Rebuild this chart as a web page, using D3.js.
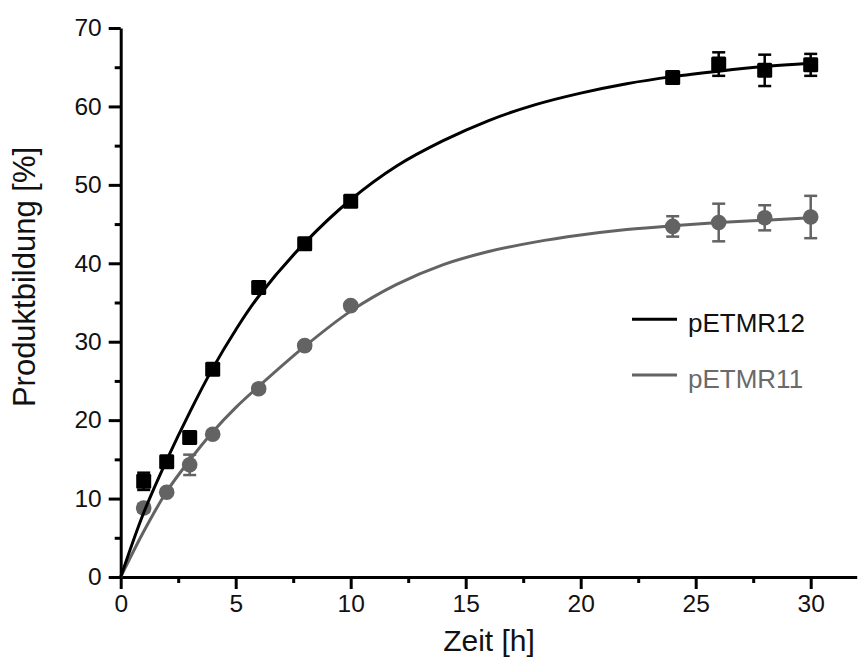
<!DOCTYPE html>
<html><head><meta charset="utf-8">
<script src="https://cdn.jsdelivr.net/npm/d3@7"></script>
<style>
body{margin:0;background:#fff;}
text{font-family:"Liberation Sans",Arial,sans-serif;}
</style></head>
<body><svg id="c" width="860" height="659"></svg>
<script>
// Measured data
const timeH = [1, 2, 3, 4, 6, 8, 10, 24, 26, 28, 30];
const pETMR12 = [12.2, 14.7, 17.8, 26.5, 36.9, 42.5, 47.9, 63.7, 65.4, 64.6, 65.3];
const pETMR12Err = [1.1, 0.5, 0.7, 0.4, 0.4, 0.4, 0.4, 0.6, 1.5, 2.0, 1.4];
const pETMR11 = [8.8, 10.8, 14.3, 18.2, 24.0, 29.5, 34.6, 44.7, 45.2, 45.8, 45.9];
const pETMR11Err = [0.5, 0.4, 1.3, 0.4, 0.4, 0.4, 0.4, 1.3, 2.4, 1.6, 2.7];
// Fit curves
const fitX = [0, 1, 2, 3, 4, 5, 6, 8, 10, 12, 14, 16, 18, 20, 22, 24, 26, 28, 30];
const fit12 = [0, 8.2, 14.9, 21.0, 26.6, 31.5, 35.8, 42.6, 48.1, 52.4, 55.6, 58.2, 60.2, 61.7, 62.9, 63.8, 64.5, 65.1, 65.5];
const fit11 = [0, 5.8, 10.9, 14.9, 18.5, 21.6, 24.3, 29.4, 33.9, 37.3, 39.8, 41.5, 42.7, 43.6, 44.3, 44.8, 45.2, 45.5, 45.8];
const xTicks = [0, 5, 10, 15, 20, 25, 30];
const yTicks = [0, 10, 20, 30, 40, 50, 60, 70];
const seriesNames = ["pETMR12", "pETMR11"];
const colors = ["#000000", "#636363"];

const svg = d3.select("#c");
const x = d3.scaleLinear().domain([0, 32]).range([120.7, 856.7]);
const y = d3.scaleLinear().domain([0, 70]).range([577, 28]);

// axes
const gx = svg.append("g").attr("transform", `translate(0,${y(0)})`);
gx.call(d3.axisBottom(x).tickValues(xTicks).tickSize(12).tickSizeOuter(0).tickPadding(6));
const gxm = svg.append("g").attr("transform", `translate(0,${y(0)})`);
gxm.call(d3.axisBottom(x).tickValues(d3.range(2.5, 32, 5)).tickSize(6).tickFormat("").tickSizeOuter(0));
gxm.select(".domain").remove();
const gy = svg.append("g").attr("transform", `translate(${x(0)},0)`);
gy.call(d3.axisLeft(y).tickValues(yTicks).tickSize(12).tickSizeOuter(0).tickPadding(7));
const gym = svg.append("g").attr("transform", `translate(${x(0)},0)`);
gym.call(d3.axisLeft(y).tickValues(d3.range(5, 70, 10)).tickSize(6).tickFormat("").tickSizeOuter(0));
gym.select(".domain").remove();
svg.selectAll(".domain").attr("stroke", "#000").attr("stroke-width", 3);
svg.selectAll(".tick line").attr("stroke", "#000").attr("stroke-width", 3);
svg.selectAll(".tick text").attr("font-size", 24.5).attr("fill", "#111")
  .style("font-family", '"Liberation Sans",Arial,sans-serif');

// axis titles
svg.append("text").attr("x", 489).attr("y", 651).attr("text-anchor", "middle")
  .attr("font-size", 30).attr("fill", "#111").text("Zeit [h]");
svg.append("text").attr("transform", "translate(35,277) rotate(-90)").attr("text-anchor", "middle")
  .attr("font-size", 31).attr("fill", "#111").text("Produktbildung [%]");

const line = d3.line().x(d => x(d[0])).y(d => y(d[1])).curve(d3.curveCatmullRom);

function drawSeries(vals, errs, fit, color, shape) {
  svg.append("path").datum(fitX.map((t, i) => [t, fit[i]]))
    .attr("d", line).attr("fill", "none").attr("stroke", color).attr("stroke-width", 3);
  const g = svg.append("g");
  timeH.forEach((t, i) => {
    const cx = x(t), cy = y(vals[i]);
    const y1 = y(vals[i] + errs[i]), y2 = y(vals[i] - errs[i]);
    g.append("line").attr("x1", cx).attr("x2", cx).attr("y1", y1).attr("y2", y2)
      .attr("stroke", color).attr("stroke-width", 2.5);
    [y1, y2].forEach(yy => g.append("line").attr("x1", cx - 6.5).attr("x2", cx + 6.5)
      .attr("y1", yy).attr("y2", yy).attr("stroke", color).attr("stroke-width", 2.5));
    if (shape === "square") {
      g.append("rect").attr("x", cx - 7.5).attr("y", cy - 7.5).attr("width", 15).attr("height", 15)
        .attr("rx", 1.5).attr("fill", color);
    } else {
      g.append("circle").attr("cx", cx).attr("cy", cy).attr("r", 7.8).attr("fill", color);
    }
  });
}
drawSeries(pETMR11, pETMR11Err, fit11, colors[1], "circle");
drawSeries(pETMR12, pETMR12Err, fit12, colors[0], "square");

// legend
const legY = [319.3, 375];
seriesNames.forEach((n, i) => {
  svg.append("line").attr("x1", 632).attr("x2", 677).attr("y1", legY[i]).attr("y2", legY[i])
    .attr("stroke", colors[i]).attr("stroke-width", 3);
  svg.append("text").attr("x", 688).attr("y", legY[i] + 13).attr("font-size", 26)
    .attr("fill", i === 0 ? "#111" : "#6a6a6a").text(n);
});
</script></body></html>
